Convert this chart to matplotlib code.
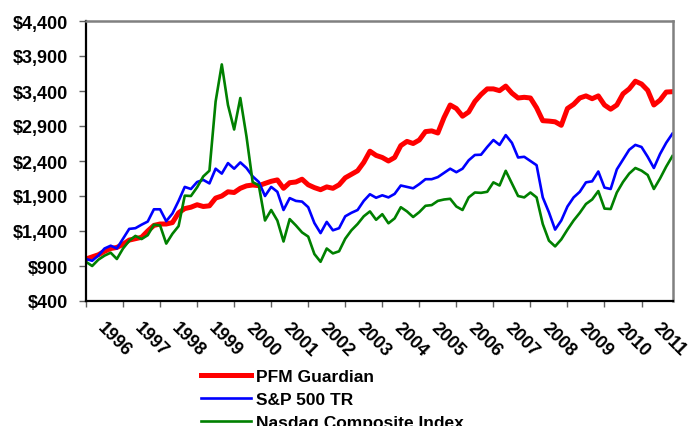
import numpy as np
import matplotlib.pyplot as plt

plt.rcParams['font.family'] = ['Liberation Sans', 'DejaVu Sans']
plt.rcParams['font.weight'] = 'bold'

# growth of $1,000, read roughly every two months from Jan 1996
pfm = [1000, 1030, 1060, 1110, 1150, 1165, 1210, 1270, 1290, 1310, 1400, 1480,
       1500, 1500, 1520, 1660, 1720, 1740, 1775, 1750, 1760, 1870, 1900, 1960,
       1950, 2010, 2045, 2057, 2048, 2080, 2110, 2130, 2010, 2090, 2100, 2140,
       2060, 2020, 1990, 2030, 2010, 2060, 2160, 2210, 2260, 2380, 2540, 2480,
       2450, 2400, 2450, 2620, 2680, 2650, 2700, 2820, 2830, 2800, 3020, 3200,
       3150, 3040, 3100, 3250, 3350, 3430, 3430, 3405, 3470, 3370, 3300, 3310,
       3300, 3160, 2976, 2970, 2960, 2910, 3150, 3210, 3300, 3330, 3290, 3330,
       3200, 3140, 3200, 3360, 3430, 3540, 3500, 3410, 3200, 3270, 3385, 3390]

sp500 = [1000, 975, 1050, 1150, 1190, 1150, 1290, 1430, 1440, 1490, 1535, 1710,
         1710, 1540, 1650, 1830, 2030, 2000, 2100, 2130, 2080, 2290, 2220, 2370,
         2290, 2380, 2300, 2180, 2100, 1900, 2030, 1960, 1700, 1870, 1830, 1820,
         1740, 1514, 1370, 1530, 1410, 1440, 1610, 1660, 1700, 1830, 1925, 1875,
         1910, 1880, 1930, 2050, 2030, 2010, 2070, 2140, 2140, 2170, 2230, 2290,
         2240, 2290, 2410, 2486, 2490, 2600, 2700, 2630, 2770, 2660, 2450, 2460,
         2400, 2340, 1880, 1667, 1420, 1550, 1750, 1880, 1960, 2095, 2110, 2250,
         2020, 2000, 2280, 2420, 2560, 2630, 2600, 2460, 2300, 2500, 2660, 2790]

nasdaq = [960, 900, 990, 1048, 1090, 1000, 1150, 1260, 1330, 1285, 1340, 1490,
          1480, 1220, 1360, 1470, 1905, 1900, 2024, 2180, 2262, 3250, 3780, 3200,
          2850, 3300, 2750, 2100, 2050, 1550, 1700, 1550, 1250, 1570, 1480, 1380,
          1320, 1071, 960, 1150, 1080, 1110, 1290, 1410, 1500, 1610, 1680, 1560,
          1640, 1510, 1580, 1740, 1680, 1600, 1670, 1760, 1770, 1830, 1850, 1860,
          1750, 1700, 1880, 1950, 1945, 1960, 2095, 2050, 2260, 2080, 1900, 1880,
          1950, 1880, 1500, 1262, 1180, 1280, 1420, 1550, 1660, 1786, 1850, 1970,
          1720, 1714, 1950, 2100, 2220, 2300, 2262, 2200, 2000, 2150, 2320, 2470]

year_labels = ['1996', '1997', '1998', '1999', '2000', '2001', '2002', '2003',
               '2004', '2005', '2006', '2007', '2008', '2009', '2010', '2011']

y_ticks = [400, 900, 1400, 1900, 2400, 2900, 3400, 3900, 4400]

t = np.arange(len(pfm)) / 6.0  # years since Jan 1996

fig = plt.figure(figsize=(6.92, 4.27), dpi=100)
ax = fig.add_axes([86 / 692, 1 - 302 / 427, 587 / 692, 280 / 427])

ax.plot(t, pfm, color='#ff0000', lw=3.6, label='PFM Guardian')
ax.plot(t, sp500, color='#0000ff', lw=1.9, label='S&P 500 TR')
ax.plot(t, nasdaq, color='#008000', lw=1.9, label='Nasdaq Composite Index')

ax.set_xlim(0, 15.85)
ax.set_ylim(400, 4400)

ax.set_yticks(y_ticks)
ax.set_yticklabels([f'${v:,}' for v in y_ticks], fontsize=13, fontweight='bold')
ax.tick_params(axis='y', length=5, width=1, pad=8, color='#606060')

ax.set_xticks(np.arange(len(year_labels)))
ax.set_xticklabels([])
ax.tick_params(axis='x', which='major', length=4, width=1, color='#606060')
ax.set_xticks(np.arange(len(year_labels)) + 0.55, minor=True)
ax.set_xticklabels(year_labels, minor=True, rotation=-45, ha='left', va='top',
                   rotation_mode='anchor', fontsize=13, fontweight='bold')
ax.tick_params(axis='x', which='minor', length=0, pad=13)

for side in ['top', 'right']:
    ax.spines[side].set_color('#808080')
    ax.spines[side].set_linewidth(1.8)
for side in ['left', 'bottom']:
    ax.spines[side].set_color('black')
    ax.spines[side].set_linewidth(1.6)

fig.legend(loc='upper left', bbox_to_anchor=(201 / 692, 1 - 370 / 427),
           frameon=False, prop={'size': 12.5, 'weight': 'bold'},
           handlelength=2.9, handletextpad=0.25, labelspacing=0.46,
           borderpad=0, borderaxespad=0)

fig.savefig('out.png', dpi=100)
